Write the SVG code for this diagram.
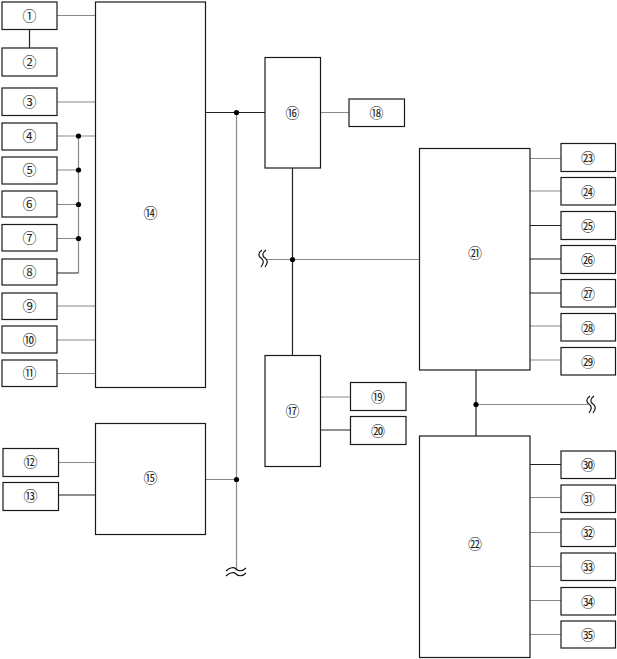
<svg xmlns="http://www.w3.org/2000/svg" width="617" height="659" viewBox="0 0 617 659">
<style>
.b{fill:#fff;stroke:#1a1a1a;stroke-width:1.2}
.t{font-family:"Noto Sans CJK JP","DejaVu Sans",sans-serif;font-size:14px;text-anchor:middle;fill:#222}
.g{stroke:#8a8a8a;stroke-width:1.2;fill:none}
.k{stroke:#222;stroke-width:1.2;fill:none}
.d{fill:#000}
.w{stroke:#111;stroke-width:1.2;fill:none}
</style>
<rect width="617" height="659" fill="#fff"/>
<g id="connectors">
<path class="g" d="M57 15.5H95M57 102H95M57 136H95M57 170H78.5M57 204.5H78.5M57 238.5H78.5M78.5 136V273M57 306H95M57 340H95M57 373.5H95"/>
<path class="k" d="M29.5 29.5V48M57 273H78.5M57 495H95"/>
<path class="g" d="M58 462.5H95M205 479.5H236.5M236.5 113V570M320 112.5H349M320 397H350M266 259.5H419M530 158.5H561M530 191H561M530 326H561M530 360H561M476 404.5H588M530 497.5H561M530 532.5H561M530 566.5H561M530 600.5H561M530 634.5H561"/>
<path class="k" d="M205 112.5H265M292.5 168V355M320 430H350M530 225.5H561M530 259H561M530 293H561M476 370V436M530 464.5H561"/>
<circle class="d" cx="78.5" cy="136" r="2.6"/>
<circle class="d" cx="78.5" cy="170" r="2.6"/>
<circle class="d" cx="78.5" cy="204.5" r="2.6"/>
<circle class="d" cx="78.5" cy="238.5" r="2.6"/>
<circle class="d" cx="236.5" cy="112.5" r="2.6"/>
<circle class="d" cx="236.5" cy="479.5" r="2.6"/>
<circle class="d" cx="292.5" cy="259.5" r="2.6"/>
<circle class="d" cx="476" cy="404.5" r="2.6"/>
<path class="w" d="M226 571C230 567 234 567 236 569S242 572 246 568M226 576C230 572 234 572 236 574S242 577 246 573"/>
<path class="w" d="M262 250C258 253 258 256 261 258S264 263 261 267M266 250C262 253 262 256 265 258S268 263 265 267"/>
<path class="w" d="M590 396C586 399 586 402 589 404S592 409 589 413M594 396C590 399 590 402 593 404S596 409 593 413"/>
</g>
<g id="n1"><rect class="b" x="2" y="2" width="55" height="27.5"/><text class="t" x="29.5" y="21">①</text></g>
<g id="n2"><rect class="b" x="2" y="48" width="55" height="28"/><text class="t" x="29.5" y="67">②</text></g>
<g id="n3"><rect class="b" x="2" y="88" width="55" height="27.5"/><text class="t" x="29.5" y="107">③</text></g>
<g id="n4"><rect class="b" x="2" y="123" width="55" height="27"/><text class="t" x="29.5" y="141">④</text></g>
<g id="n5"><rect class="b" x="2" y="157" width="55" height="27"/><text class="t" x="29.5" y="175">⑤</text></g>
<g id="n6"><rect class="b" x="2" y="191" width="55" height="26"/><text class="t" x="29.5" y="209">⑥</text></g>
<g id="n7"><rect class="b" x="2" y="224.5" width="55" height="26.5"/><text class="t" x="29.5" y="243">⑦</text></g>
<g id="n8"><rect class="b" x="2" y="259" width="55" height="26"/><text class="t" x="29.5" y="277">⑧</text></g>
<g id="n9"><rect class="b" x="2" y="293" width="55" height="26.5"/><text class="t" x="29.5" y="311">⑨</text></g>
<g id="n10"><rect class="b" x="2" y="326" width="55" height="27"/><text class="t" x="29.5" y="344.5">⑩</text></g>
<g id="n11"><rect class="b" x="2" y="360" width="55" height="26.5"/><text class="t" x="29.5" y="378">⑪</text></g>
<g id="n12"><rect class="b" x="3" y="448.5" width="55.5" height="28"/><text class="t" x="30.5" y="467">⑫</text></g>
<g id="n13"><rect class="b" x="3" y="482.5" width="55.5" height="28"/><text class="t" x="30.5" y="501">⑬</text></g>
<g id="n14"><rect class="b" x="95.5" y="2" width="110" height="385.5"/><text class="t" x="150.5" y="218">⑭</text></g>
<g id="n15"><rect class="b" x="95.5" y="423.5" width="110" height="111"/><text class="t" x="150.5" y="483">⑮</text></g>
<g id="n16"><rect class="b" x="265" y="57.5" width="55.5" height="110.5"/><text class="t" x="292.5" y="118">⑯</text></g>
<g id="n17"><rect class="b" x="265" y="355.5" width="55.5" height="111"/><text class="t" x="292.5" y="416">⑰</text></g>
<g id="n18"><rect class="b" x="349" y="99" width="55.5" height="27.5"/><text class="t" x="376.5" y="118">⑱</text></g>
<g id="n19"><rect class="b" x="350.5" y="382.5" width="55.5" height="28"/><text class="t" x="378" y="402">⑲</text></g>
<g id="n20"><rect class="b" x="350.5" y="416.5" width="55.5" height="28"/><text class="t" x="378" y="435.5">⑳</text></g>
<g id="n21"><rect class="b" x="419.5" y="148.5" width="110.5" height="221.5"/><text class="t" x="475" y="258">㉑</text></g>
<g id="n22"><rect class="b" x="419.5" y="436" width="110.5" height="221.5"/><text class="t" x="475" y="549">㉒</text></g>
<g id="n23"><rect class="b" x="561" y="143.5" width="54.5" height="28"/><text class="t" x="588" y="163">㉓</text></g>
<g id="n24"><rect class="b" x="561" y="177.5" width="54.5" height="27.5"/><text class="t" x="588" y="196.5">㉔</text></g>
<g id="n25"><rect class="b" x="561" y="211.5" width="54.5" height="28"/><text class="t" x="588" y="230.5">㉕</text></g>
<g id="n26"><rect class="b" x="561" y="245.5" width="54.5" height="28"/><text class="t" x="588" y="264.5">㉖</text></g>
<g id="n27"><rect class="b" x="561" y="279.5" width="54.5" height="27.5"/><text class="t" x="588" y="298.5">㉗</text></g>
<g id="n28"><rect class="b" x="561" y="313.5" width="54.5" height="27.5"/><text class="t" x="588" y="332.5">㉘</text></g>
<g id="n29"><rect class="b" x="561" y="347.5" width="54.5" height="27.5"/><text class="t" x="588" y="366.5">㉙</text></g>
<g id="n30"><rect class="b" x="561" y="451" width="54.5" height="27.5"/><text class="t" x="588" y="470">㉚</text></g>
<g id="n31"><rect class="b" x="561" y="485" width="54.5" height="27.5"/><text class="t" x="588" y="504">㉛</text></g>
<g id="n32"><rect class="b" x="561" y="519" width="54.5" height="27.5"/><text class="t" x="588" y="538">㉜</text></g>
<g id="n33"><rect class="b" x="561" y="553" width="54.5" height="27.5"/><text class="t" x="588" y="572">㉝</text></g>
<g id="n34"><rect class="b" x="561" y="587.5" width="54.5" height="27.5"/><text class="t" x="588" y="606.5">㉞</text></g>
<g id="n35"><rect class="b" x="561" y="621" width="54.5" height="27"/><text class="t" x="588" y="640">㉟</text></g>
</svg>
